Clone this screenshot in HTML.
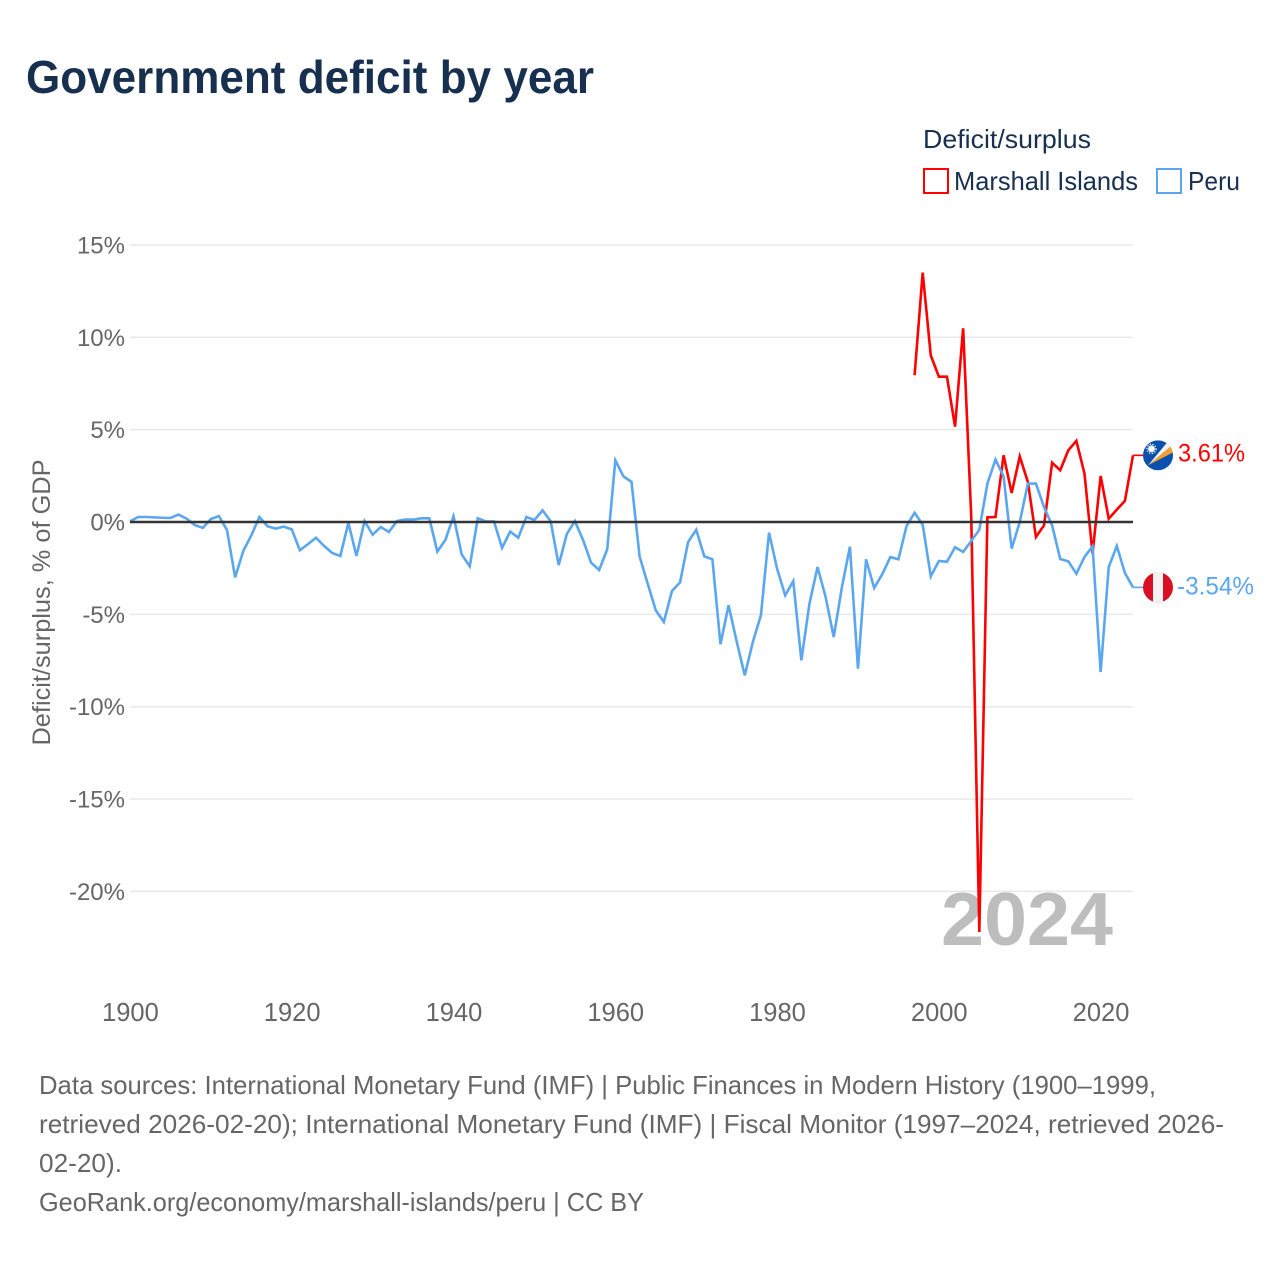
<!DOCTYPE html>
<html lang="en">
<head>
<meta charset="utf-8">
<title>Government deficit by year</title>
<style>
  html, body { margin: 0; padding: 0; background: #fff; }
  svg { display: block; font-family: "Liberation Sans", sans-serif; }
</style>
</head>
<body>
<svg id="chart" width="1280" height="1280" viewBox="0 0 1280 1280" xmlns="http://www.w3.org/2000/svg">
  <rect x="0" y="0" width="1280" height="1280" fill="#ffffff"/>
  <text x="26" y="93" font-size="46" font-weight="700" fill="#17304f" textLength="568" lengthAdjust="spacingAndGlyphs">Government deficit by year</text>

  <g>
    <text x="923" y="148" font-size="26" fill="#17304f" textLength="168" lengthAdjust="spacingAndGlyphs">Deficit/surplus</text>
    <g>
      <rect x="924" y="169" width="24" height="24" fill="none" stroke="#ff0000" stroke-width="2"/>
      <text x="954" y="190" font-size="26" fill="#17304f" textLength="184" lengthAdjust="spacingAndGlyphs">Marshall Islands</text>
    </g>
    <g>
      <rect x="1157" y="169" width="24" height="24" fill="none" stroke="#5ba7ef" stroke-width="2"/>
      <text x="1188" y="190" font-size="26" fill="#17304f" textLength="52" lengthAdjust="spacingAndGlyphs">Peru</text>
    </g>
  </g>

  <g id="grid"></g>
  <g id="y-ticks"></g>
  <g id="x-ticks"></g>
  <text transform="translate(50 602.5) rotate(-90)" text-anchor="middle" font-size="25" fill="#666666" textLength="286" lengthAdjust="spacingAndGlyphs">Deficit/surplus, % of GDP</text>

  <text x="941" y="945" font-size="75" font-weight="700" fill="#bdbdbd" textLength="172" lengthAdjust="spacingAndGlyphs">2024</text>

  <g id="series"></g>
  <g id="zero"></g>

  <defs>
    <clipPath id="flag-clip"><circle cx="0" cy="0" r="15"/></clipPath>
  </defs>
  <g id="flag-marshall" clip-path="none">
    <g clip-path="url(#flag-clip)">
      <rect x="-15" y="-15" width="30" height="30" fill="#0a50ae"/>
      <polygon points="-10,10 10,-14 14,-10" fill="#f2f2f2"/>
      <polygon points="-10,10 14,-10 15,-3" fill="#f7a030"/>
      <circle cx="-6.5" cy="-6.5" r="3.4" fill="#ffffff"/>
      <circle cx="-6.5" cy="-6.5" r="4.6" fill="none" stroke="#ffffff" stroke-width="1.2" stroke-dasharray="1.4 1.4"/>
    </g>
  </g>
  <g id="flag-peru">
    <g clip-path="url(#flag-clip)">
      <rect x="-15" y="-15" width="30" height="30" fill="#d91023"/>
      <rect x="-5" y="-15" width="10" height="30" fill="#f2f2f2"/>
    </g>
  </g>
  <text id="value-marshall" x="1178" y="461" font-size="25" fill="#ff0000" textLength="67" lengthAdjust="spacingAndGlyphs"></text>
  <text id="value-peru" x="1177" y="594" font-size="25" fill="#5ba7ef" textLength="77" lengthAdjust="spacingAndGlyphs"></text>

  <g font-size="26" fill="#666666">
    <text x="39" y="1094" textLength="1117" lengthAdjust="spacingAndGlyphs">Data sources: International Monetary Fund (IMF) | Public Finances in Modern History (1900–1999,</text>
    <text x="39" y="1133" textLength="1185" lengthAdjust="spacingAndGlyphs">retrieved 2026-02-20); International Monetary Fund (IMF) | Fiscal Monitor (1997–2024, retrieved 2026-</text>
    <text x="39" y="1172" textLength="83" lengthAdjust="spacingAndGlyphs">02-20).</text>
    <text x="39" y="1211" textLength="605" lengthAdjust="spacingAndGlyphs">GeoRank.org/economy/marshall-islands/peru | CC BY</text>
  </g>
</svg>

<script>
const yTickValues = [15, 10, 5, 0, -5, -10, -15, -20];
const xTickValues = [1900, 1920, 1940, 1960, 1980, 2000, 2020];

const marshallYears = [1997,1998,1999,2000,2001,2002,2003,2004,2005,2006,2007,2008,2009,2010,2011,2012,2013,2014,2015,2016,2017,2018,2019,2020,2021,2022,2023,2024];
const marshallValues = [7.95,13.5,9.02,7.87,7.87,5.16,10.49,0.3,-22.2,0.25,0.27,3.61,1.57,3.55,2.17,-0.81,-0.18,3.21,2.8,3.88,4.39,2.62,-1.71,2.49,0.18,0.67,1.14,3.61];

const peruYears = [1900,1901,1902,1903,1904,1905,1906,1907,1908,1909,
  1910,1911,1912,1913,1914,1915,1916,1917,1918,1919,
  1920,1921,1922,1923,1924,1925,1926,1927,1928,1929,
  1930,1931,1932,1933,1934,1935,1936,1937,1938,1939,
  1940,1941,1942,1943,1944,1945,1946,1947,1948,1949,
  1950,1951,1952,1953,1954,1955,1956,1957,1958,1959,
  1960,1961,1962,1963,1964,1965,1966,1967,1968,1969,
  1970,1971,1972,1973,1974,1975,1976,1977,1978,1979,
  1980,1981,1982,1983,1984,1985,1986,1987,1988,1989,
  1990,1991,1992,1993,1994,1995,1996,1997,1998,1999,
  2000,2001,2002,2003,2004,2005,2006,2007,2008,2009,
  2010,2011,2012,2013,2014,2015,2016,2017,2018,2019,
  2020,2021,2022,2023,2024];
const peruValues = [0.03,0.27,0.27,0.25,0.23,0.22,0.4,0.18,-0.16,-0.32,
  0.16,0.32,-0.45,-3.0,-1.57,-0.72,0.27,-0.23,-0.36,-0.25,
  -0.4,-1.53,-1.2,-0.85,-1.3,-1.68,-1.84,-0.05,-1.84,0.05,
  -0.69,-0.27,-0.54,0.05,0.13,0.13,0.2,0.2,-1.6,-0.96,
  0.32,-1.75,-2.4,0.2,0.03,0.03,-1.4,-0.52,-0.85,0.27,
  0.11,0.63,0.05,-2.33,-0.65,0.05,-0.96,-2.2,-2.6,-1.48,
  3.34,2.47,2.17,-1.86,-3.34,-4.78,-5.41,-3.74,-3.27,-1.08,
  -0.42,-1.86,-2.02,-6.62,-4.51,-6.46,-8.3,-6.5,-5.05,-0.58,
  -2.53,-3.97,-3.2,-7.49,-4.42,-2.44,-4.06,-6.23,-3.56,-1.34,
  -7.94,-2.02,-3.57,-2.83,-1.9,-2.02,-0.22,0.5,-0.14,-2.94,
  -2.11,-2.15,-1.37,-1.62,-1.03,-0.42,2.08,3.38,2.47,-1.44,
  0,2.08,2.08,0.81,-0.18,-2.0,-2.13,-2.8,-1.9,-1.32,
  -8.12,-2.44,-1.3,-2.76,-3.54];

const SVG_NS = 'http://www.w3.org/2000/svg';
const X_LEFT = 130, X_RIGHT = 1133, X_MIN = 1900, X_MAX = 2024;
const Y_ZERO = 522, PX_PER_UNIT = 18.47;
const COLOR_RED = '#ff0000', COLOR_BLUE = '#5ba7ef';

function xScale(year) { return X_LEFT + (year - X_MIN) * (X_RIGHT - X_LEFT) / (X_MAX - X_MIN); }
function yScale(value) { return Y_ZERO - value * PX_PER_UNIT; }
function make(tag, parent, attrs) {
  const el = document.createElementNS(SVG_NS, tag);
  for (const k in attrs) el.setAttribute(k, attrs[k]);
  parent.appendChild(el);
  return el;
}
function linePath(years, values) {
  return years.map((yr, i) => (i ? 'L' : 'M') + xScale(yr).toFixed(2) + ' ' + yScale(values[i]).toFixed(2)).join(' ');
}
function fmt(v) { return v.toFixed(2) + '%'; }

const gridGroup = document.getElementById('grid');
const yTickGroup = document.getElementById('y-ticks');
yTickValues.forEach(function (v) {
  if (v !== 0) {
    const gl = make('line', gridGroup, { x1: X_LEFT, x2: X_RIGHT, y1: yScale(v), y2: yScale(v), stroke: '#e9e9e9', 'stroke-width': 1.5 });
    
    
  }
  const t = make('text', yTickGroup, { x: 125, y: yScale(v) + 8.5, 'text-anchor': 'end', 'font-size': 24, fill: '#666666' });
  t.textContent = v + '%';
  
  
});

const xTickGroup = document.getElementById('x-ticks');
xTickValues.forEach(function (yr) {
  const t = make('text', xTickGroup, { x: xScale(yr) + 0.4, y: 1021, 'text-anchor': 'middle', 'font-size': 25.5, fill: '#666666' });
  t.textContent = yr;
  
  
});

const seriesGroup = document.getElementById('series');
const marshallLine = make('path', seriesGroup, { d: linePath(marshallYears, marshallValues), fill: 'none', stroke: COLOR_RED, 'stroke-width': 2.6, 'stroke-linejoin': 'miter' });


const peruLine = make('path', seriesGroup, { d: linePath(peruYears, peruValues), fill: 'none', stroke: COLOR_BLUE, 'stroke-width': 2.6, 'stroke-linejoin': 'miter' });



const marshallEnd = marshallValues[marshallValues.length - 1];
const peruEnd = peruValues[peruValues.length - 1];
const marshallConnector = make('line', seriesGroup, { x1: X_RIGHT, x2: 1143, y1: yScale(marshallEnd), y2: yScale(marshallEnd), stroke: COLOR_RED, 'stroke-width': 1.6 });


const peruConnector = make('line', seriesGroup, { x1: X_RIGHT, x2: 1143, y1: yScale(peruEnd), y2: yScale(peruEnd), stroke: COLOR_BLUE, 'stroke-width': 1.6 });



const zeroLine = make('line', document.getElementById('zero'), { x1: X_LEFT, x2: X_RIGHT, y1: yScale(0), y2: yScale(0), stroke: '#333333', 'stroke-width': 2.5 });



document.getElementById('flag-marshall').setAttribute('transform', 'translate(1158 ' + yScale(marshallEnd) + ')');
document.getElementById('flag-peru').setAttribute('transform', 'translate(1158 ' + yScale(peruEnd) + ')');
const valueMarshall = document.getElementById('value-marshall');
valueMarshall.textContent = fmt(marshallEnd);
valueMarshall.setAttribute('y', yScale(marshallEnd) + 6);
const valuePeru = document.getElementById('value-peru');
valuePeru.textContent = fmt(peruEnd);
valuePeru.setAttribute('y', yScale(peruEnd) + 7);
</script>
</body>
</html>
